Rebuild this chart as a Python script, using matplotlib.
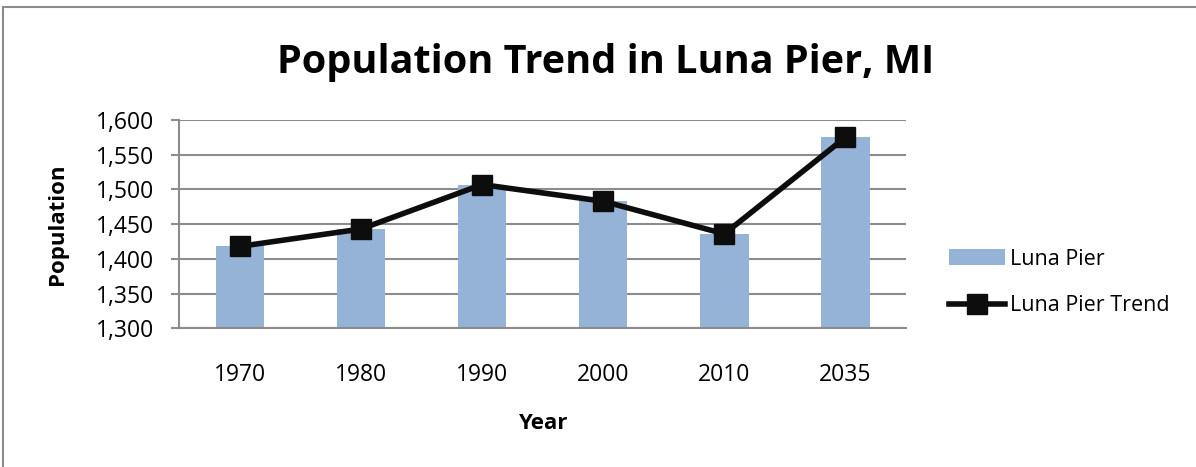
import numpy as np
import matplotlib.pyplot as plt
from matplotlib.patches import Rectangle

plt.rcParams['font.family'] = ['Open Sans', 'DejaVu Sans']

years = ['1970', '1980', '1990', '2000', '2010', '2035']
population = [1418, 1443, 1507, 1483, 1436, 1575]
trend = [1418, 1443, 1507, 1483, 1436, 1575]
y_ticks = [1300, 1350, 1400, 1450, 1500, 1550, 1600]

fig = plt.figure(figsize=(11.96, 4.67), dpi=100)
ax = fig.add_axes([0.1499, 0.297, 0.6076, 0.446])

x = np.arange(len(years))
bars = ax.bar(x, population, width=0.4, color='#95B3D7', label='Luna Pier', zorder=2)
line, = ax.plot(x, trend, color='#0d0d0d', linewidth=4, marker='s', markersize=14,
                label='Luna Pier Trend', zorder=3)

ax.set_xlim(-0.5, len(years) - 0.5)
ax.set_ylim(1300, 1600)
ax.set_yticks(y_ticks)
ax.set_yticklabels([f'{v:,}' for v in y_ticks])
ax.set_xticks(x)
ax.set_xticklabels(years)
ax.yaxis.grid(True, color='#8c8c8c', linewidth=1.5, zorder=1)
ax.set_axisbelow(True)

for s in ['top', 'right']:
    ax.spines[s].set_visible(False)
for s in ['left', 'bottom']:
    ax.spines[s].set_color('#8c8c8c')
    ax.spines[s].set_linewidth(1.5)

ax.tick_params(axis='y', length=6, width=1.5, color='#8c8c8c', labelsize=16.5, pad=12)
ax.tick_params(axis='x', length=0, labelsize=16.5, pad=25)

ax.set_ylabel('Population', fontsize=16, fontweight='bold', labelpad=20)
ax.set_xlabel('Year', fontsize=16, fontweight='bold', labelpad=19)

fig.suptitle('Population Trend in Luna Pier, MI', fontsize=28.5, fontweight='bold',
             x=0.506, y=0.908)

ax.legend([bars, line], ['Luna Pier', 'Luna Pier Trend'],
          loc='center left', bbox_to_anchor=(1.033, 0.22), frameon=False,
          fontsize=15.5, handlelength=2.6, handletextpad=0.2, labelspacing=1.2)

fig.patches.append(Rectangle((3 / 1196, -0.1), 1.2, 1.1 - 7.5 / 467,
                             transform=fig.transFigure, fill=False,
                             edgecolor='#8c8c8c', linewidth=1.5))

fig.savefig('out.png', dpi=100)
